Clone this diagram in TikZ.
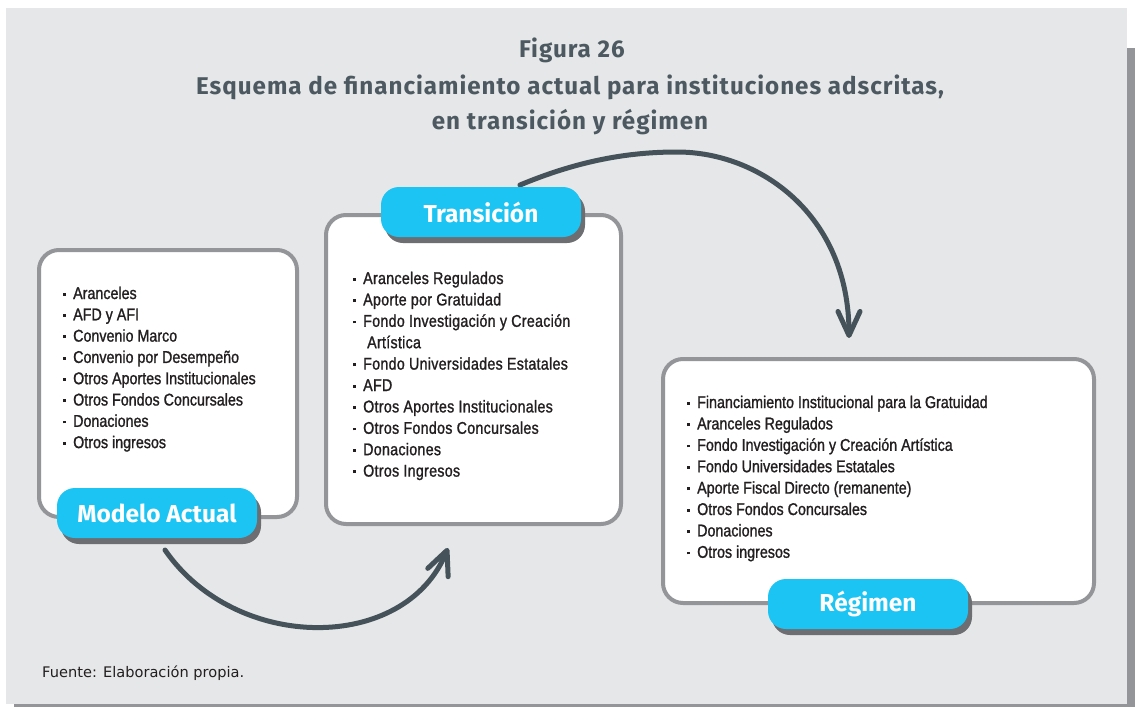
\documentclass[tikz,border=0pt]{standalone}
\usepackage{fontspec}
\setmainfont{Fira Sans}
\newfontfamily\titlefont[LetterSpace=4]{Fira Sans}
\newfontfamily\srcfont{DejaVu Sans}
\newfontfamily\cond[FakeStretch=0.84,FakeBold=1.2]{Liberation Sans}
\newfontfamily\condsp[FakeStretch=0.84,FakeBold=1.2,LetterSpace=1.6]{Liberation Sans}
\usetikzlibrary{arrows.meta,shadows}
\definecolor{panel}{HTML}{E6E7E8}
\definecolor{pshadow}{HTML}{939598}
\definecolor{boxline}{HTML}{939598}
\definecolor{tagcyan}{HTML}{1CC4F3}
\definecolor{tagshadow}{HTML}{6D6E71}
\definecolor{arrowc}{HTML}{46525A}
\definecolor{titlec}{HTML}{4D5961}
\definecolor{txt}{HTML}{231F20}
\newcommand\itembul{\makebox[10pt][l]{\raisebox{3.4pt}{\rule{2.8pt}{2.8pt}}}}
\begin{document}
\begin{tikzpicture}[x=1pt,y=-1pt,
  titletext/.style={font=\titlefont\bfseries\fontsize{24.2}{28}\selectfont, text=titlec, inner sep=0pt},
  listbox/.style={draw=boxline, line width=4pt, fill=white, rounded corners=20pt, inner sep=0pt},
  tag/.style={fill=tagcyan, rounded corners=18pt, minimum width=200pt, minimum height=50pt,
    text=white, font=\bfseries\fontsize{24.5}{28}\selectfont, inner sep=0pt,
    drop shadow={shadow xshift=4pt, shadow yshift=-6pt, fill=tagshadow, opacity=1}},
  item/.style={anchor=base west, inner sep=0pt, text=txt, font=\cond\fontsize{17}{20}\selectfont},
  itemsp/.style={item, font=\condsp\fontsize{17}{20}\selectfont},
  flow/.style={draw=arrowc, line width=5pt, line cap=round,
    -{Straight Barb[length=24pt,width=22pt,line cap=round,line join=round]}}
]
\useasboundingbox (0,0) rectangle (1135,707);
\fill[white] (0,0) rectangle (1135,707);
\fill[pshadow] (14,48) rectangle (1135,707);
\fill[panel] (6,8) rectangle (1127,704);

% title
\node[titletext] (t1) at (572,50) {Figura 26};
\node[titletext] (t2) at (570,87) {Esquema de financiamiento actual para instituciones adscritas,};
\node[titletext] (t3) at (570,122) {en transición y régimen};

% boxes
\node[listbox, minimum width=258pt, minimum height=267pt] (b1) at (168,383.5) {};
\node[listbox, minimum width=295pt, minimum height=309pt] (b2) at (473.5,369.5) {};
\node[listbox, minimum width=431pt, minimum height=244pt] (b3) at (878.5,481) {};

% arrows
\coordinate (a1s) at (165,550);
\coordinate (a1e) at (448,548);
\coordinate (a2s) at (520,185);
\coordinate (a2m) at (677,152);
\coordinate (a2e) at (849,338);
\draw[flow] (a1s) .. controls (236,653) and (405,653) .. (a1e);
\draw[flow] (a2s) .. controls (580,160) and (630,152) .. (a2m)
   .. controls (760,152) and (849,215) .. (a2e);

% tags
\node[tag] (l1) at (157,513) {Modelo Actual};
\node[tag] (l2) at (481,212) {Transición};
\node[tag] (l3) at (868,604) {Régimen};

% lists
\foreach \t [count=\i from 0] in {Aranceles, AFD y AFI, Convenio Marco, Convenio por Desempeño,
  Otros Aportes Institucionales, Otros Fondos Concursales, Donaciones, Otros ingresos}
  \node[item] (m\i) at (63,{299+21.3*\i}) {\itembul\t};

\foreach \t [count=\i from 0] in {\itembul Aranceles Regulados, \itembul Aporte por Gratuidad,
  \itembul Fondo Investigación y Creación, \hspace*{14pt}Artística,
  \itembul Fondo Universidades Estatales, \itembul AFD, \itembul Otros Aportes Institucionales,
  \itembul Otros Fondos Concursales, \itembul Donaciones, \itembul Otros Ingresos}
  \node[itemsp] (n\i) at (353,{284+21.4*\i}) {\t};

\foreach \t [count=\i from 0] in {Financiamiento Institucional para la Gratuidad, Aranceles Regulados,
  Fondo Investigación y Creación Artística, Fondo Universidades Estatales,
  Aporte Fiscal Directo (remanente), Otros Fondos Concursales, Donaciones, Otros ingresos}
  \node[item] (r\i) at (687,{408+21.4*\i}) {\itembul\t};

% source
\node[anchor=west, inner sep=0pt, text=txt, font=\srcfont\fontsize{14.6}{17}\selectfont] (src) at (42,673) {Fuente: Elaboración propia.};
\end{tikzpicture}
\end{document}
